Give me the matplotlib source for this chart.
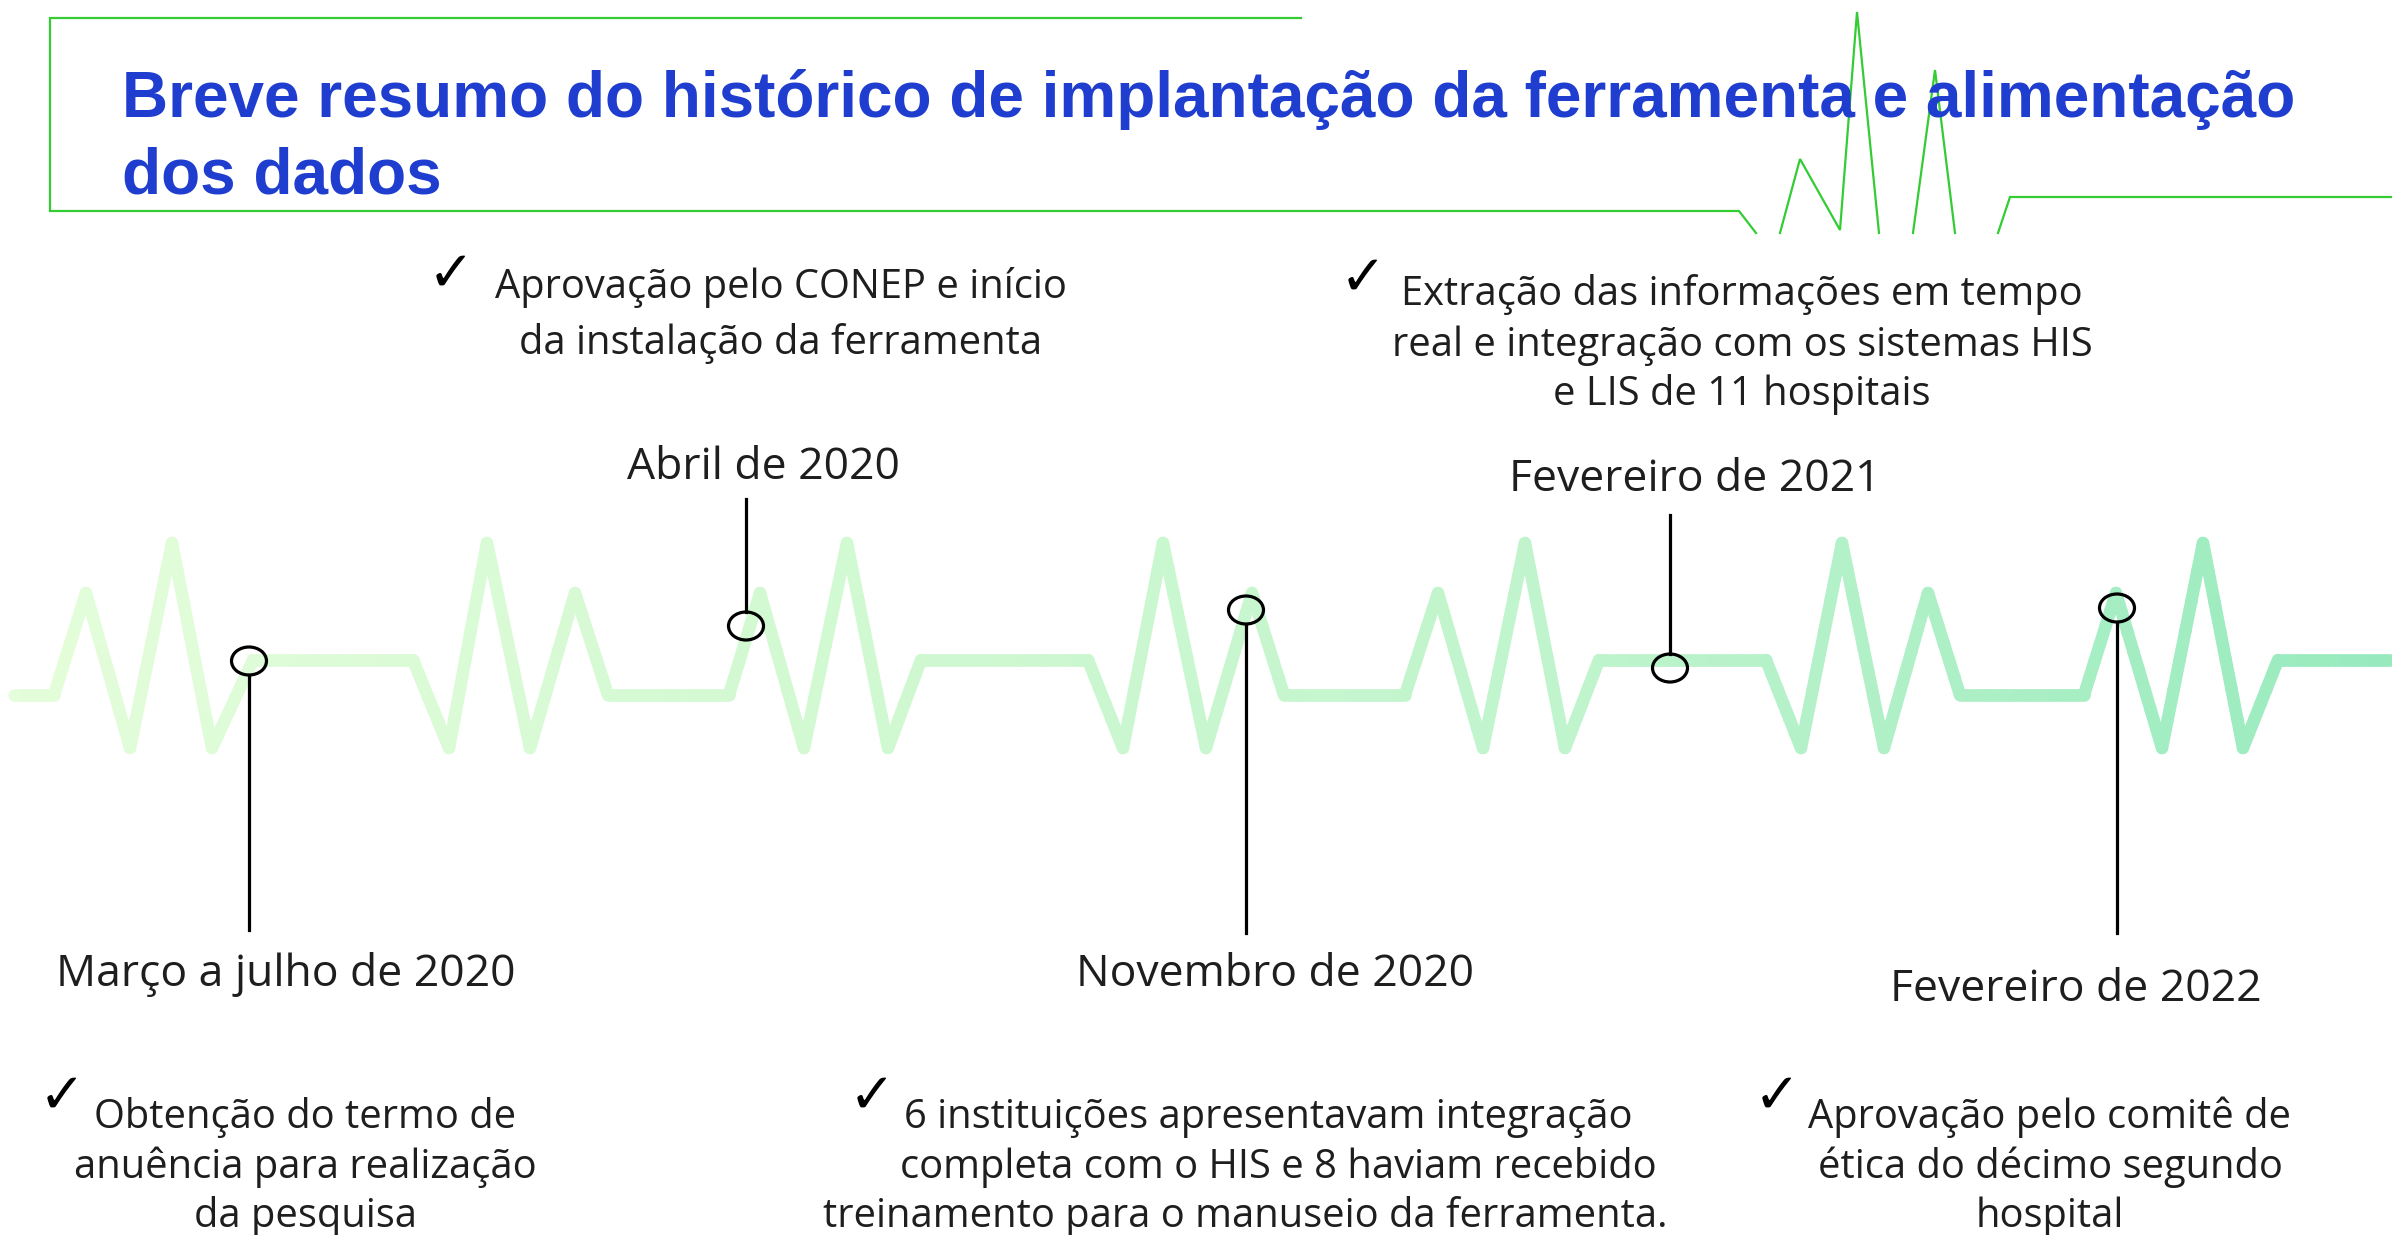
import numpy as np
import matplotlib.pyplot as plt
from matplotlib.collections import LineCollection
from matplotlib.colors import LinearSegmentedColormap
from matplotlib.patches import Ellipse

W, H = 2392, 1235

title_lines = ['Breve resumo do histórico de implantação da ferramenta e alimentação',
               'dos dados']

# heartbeat trace (pixels, y down)
pulse_x = [14, 54, 86, 130, 172, 212, 253, 413, 449, 487, 530, 575, 608, 729, 760,
           804, 847, 888, 921, 1088, 1123, 1163, 1206, 1252, 1284, 1405, 1438, 1483,
           1525, 1565, 1599, 1766, 1801, 1842, 1884, 1928, 1960, 2084, 2116, 2162,
           2203, 2243, 2278, 2392]
pulse_y = [695, 695, 593, 748, 543, 748, 660, 660, 748, 543, 748, 593, 695, 695, 593,
           748, 543, 748, 660, 660, 748, 543, 748, 593, 695, 695, 593, 748, 543, 748,
           660, 660, 748, 543, 748, 593, 695, 695, 593, 748, 543, 748, 660, 660]

# green frame around the title with its little ecg spikes
frame_parts = [
    ([1301, 50, 50, 1739, 1756], [18, 18, 211, 211, 233]),
    ([1780, 1800, 1840, 1857, 1879], [233, 159, 230, 12, 233]),
    ([1913, 1935, 1955], [233, 70, 233]),
    ([1998, 2010, 2392], [233, 197, 197]),
]

dates = ['Março a julho de 2020', 'Abril de 2020', 'Novembro de 2020',
         'Fevereiro de 2021', 'Fevereiro de 2022']
notes = [
    ['Obtenção do termo de', 'anuência para realização', 'da pesquisa'],
    ['Aprovação pelo CONEP e início', 'da instalação da ferramenta'],
    ['6 instituições apresentavam integração', 'completa com o HIS e 8 haviam recebido',
     'treinamento para o manuseio da ferramenta.'],
    ['Extração das informações em tempo', 'real e integração com os sistemas HIS',
     'e LIS de 11 hospitais'],
    ['Aprovação pelo comitê de', 'ética do décimo segundo', 'hospital'],
]

# layout
dot_xy = [(249, 661), (746, 626), (1246, 610), (1670, 668), (2117, 608)]
stem_end = [930, 499, 933, 515, 933]
date_xy = [(286, 986), (763, 479), (1275, 986), (1695, 491), (2076, 1001)]
note_x = [[305] * 3, [781] * 2, [1268, 1278, 1245], [1742] * 3, [2050] * 3]
note_y = [[1128, 1178, 1227], [298, 354], [1128, 1178, 1227], [305, 356, 405],
          [1128, 1178, 1227]]
check_xy = [(62, 1098), (451, 276), (872, 1098), (1363, 280), (1777, 1098)]

body_font = ['Open Sans', 'DejaVu Sans']
txt_col = '#1e1e1e'

fig = plt.figure(figsize=(W / 100, H / 100), dpi=100)
ax = fig.add_axes([0, 0, 1, 1])
ax.set_xlim(0, W)
ax.set_ylim(H, 0)
ax.axis('off')

# title + frame
for i, t in enumerate(title_lines):
    ax.text(122, 117 + 76 * i, t, fontsize=46, fontweight='bold', color='#1f3dce',
            family=['Liberation Sans', 'DejaVu Sans'], va='baseline', ha='left')
for xs, ys in frame_parts:
    ax.plot(xs, ys, color='#33cc33', lw=1.6, solid_joinstyle='miter')

# gradient heartbeat line
px = np.array(pulse_x, float)
py = np.array(pulse_y, float)
segs, mids = [], []
for i in range(len(px) - 1):
    n = max(2, int(abs(px[i + 1] - px[i]) / 6) + 2)
    xs = np.linspace(px[i], px[i + 1], n)
    ys = np.linspace(py[i], py[i + 1], n)
    for j in range(n - 1):
        segs.append([(xs[j], ys[j]), (xs[j + 1], ys[j + 1])])
        mids.append((xs[j] + xs[j + 1]) / 2)
cmap = LinearSegmentedColormap.from_list('ecg', ['#e4fdda', '#d2f9d2', '#bff4cc', '#98eabe'])
lc = LineCollection(segs, colors=cmap(np.array(mids) / W), linewidths=9,
                    capstyle='round', joinstyle='round')
ax.add_collection(lc)

# markers, stems, labels
for k in range(len(dates)):
    x0, y0 = dot_xy[k]
    if stem_end[k] > y0:
        ax.plot([x0, x0], [y0 + 14, stem_end[k]], color='black', lw=2.3)
    else:
        ax.plot([x0, x0], [y0 - 14, stem_end[k]], color='black', lw=2.3)
    ax.add_patch(Ellipse((x0, y0), 35, 28, fill=False, ec='black', lw=2.3, zorder=5))

    ax.text(date_xy[k][0], date_xy[k][1], dates[k], fontsize=32, family=body_font,
            color=txt_col, ha='center', va='baseline')
    for line, lx, ly in zip(notes[k], note_x[k], note_y[k]):
        ax.text(lx, ly, line, fontsize=28.7, family=body_font, color=txt_col,
                ha='center', va='baseline')
    ax.text(check_xy[k][0], check_xy[k][1], '✓', fontsize=40, family='DejaVu Sans',
            color='black', ha='center', va='center')

fig.savefig('out.png', dpi=100)
